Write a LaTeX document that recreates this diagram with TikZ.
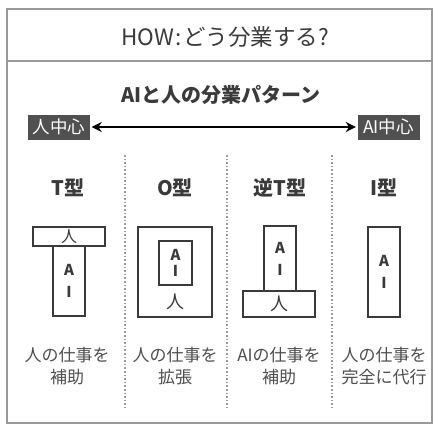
\documentclass[tikz,border=0pt]{standalone}
\usepackage{fontspec}
\setmainfont{Noto Sans CJK JP}
\usetikzlibrary{arrows.meta}
\definecolor{txt}{HTML}{3A3A3A}
\definecolor{framec}{HTML}{9A9A9A}
\definecolor{tagc}{HTML}{505050}
\begin{document}
\begin{tikzpicture}[x=1pt,y=-1pt,
  every node/.style={text=txt, inner sep=0pt},
  lbl/.style={font=\fontsize{17}{22}\selectfont, align=center, text=txt!90},
  head/.style={font=\bfseries\fontsize{20}{24}\selectfont},
  tagbox/.style={fill=tagc, text=white, minimum width=62pt, minimum height=25pt, font=\fontsize{17.5}{18}\selectfont},
  shp/.style={draw=txt, line width=2.3pt, font=\bfseries\fontsize{15}{22}\selectfont, align=center},
  hum/.style={font=\fontsize{18}{20}\selectfont},
  sep/.style={draw=framec, dotted, line width=1.6pt},
]
\useasboundingbox (0,0) rectangle (433,426);
\draw[framec, line width=1.5pt] (7,9) rectangle (432,423);
\draw[framec, line width=1.8pt] (7,61) -- (432,61);
\node (title) [font=\fontsize{22.5}{24}\selectfont] at (225,37) {HOW\hspace{1.5pt}:\hspace{1.5pt}どう分業する?};
\node (sub) [head] at (221,95) {AIと人の分業パターン};
\node (hum) [tagbox] at (59,127) {人中心};
\node (ai) [tagbox] at (388.5,127) {AI中心};
\draw[{Stealth[length=10pt,width=10pt]}-{Stealth[length=10pt,width=10pt]}, line width=2pt, black, shorten <=1.5pt, shorten >=1.5pt] (hum) -- (ai);
% separators
\coordinate (s1a) at (125,155); \coordinate (s1b) at (125,408);
\coordinate (s2a) at (227,155); \coordinate (s2b) at (227,408);
\coordinate (s3a) at (332,155); \coordinate (s3b) at (332,408);
\draw[sep] (s1a) -- (s1b);
\draw[sep] (s2a) -- (s2b);
\draw[sep] (s3a) -- (s3b);
% headings
\node (h1) [head] at (68,188) {T型};
\node (h2) [head] at (175,188) {O型};
\node (h3) [head] at (280,188) {逆T型};
\node (h4) [head] at (384,188) {I型};
% T
\node (tA) [shp, minimum width=32pt, minimum height=70pt] at (69,281) {A\\I};
\node (tH) [shp, hum, font=\fontsize{16}{18}\selectfont, minimum width=72pt, minimum height=19pt] at (69,236.5) {人};
% O
\node (oO) [shp, minimum width=74pt, minimum height=90pt] at (175,272) {};
\node (oA) [shp, font=\bfseries\fontsize{15}{16}\selectfont, minimum width=33pt, minimum height=44pt] at (175.5,263) {A\\I};
\node (oH) [hum] at (175,302) {人};
% reverse T
\node (rA) [shp, minimum width=32pt, minimum height=65pt] at (280,258.5) {A\\I};
\node (rH) [shp, hum, minimum width=72pt, minimum height=26pt] at (279,304) {人};
% I
\node (iA) [shp, minimum width=32pt, minimum height=90pt] at (384,272) {A\\I};
% labels
\node (b1) [lbl] at (67,366) {人の仕事を\\補助};
\node (b2) [lbl] at (175,366) {人の仕事を\\拡張};
\node (b3) [lbl] at (279,366) {AIの仕事を\\補助};
\node (b4) [lbl] at (384,366) {人の仕事を\\完全に代行};
\end{tikzpicture}
\end{document}
